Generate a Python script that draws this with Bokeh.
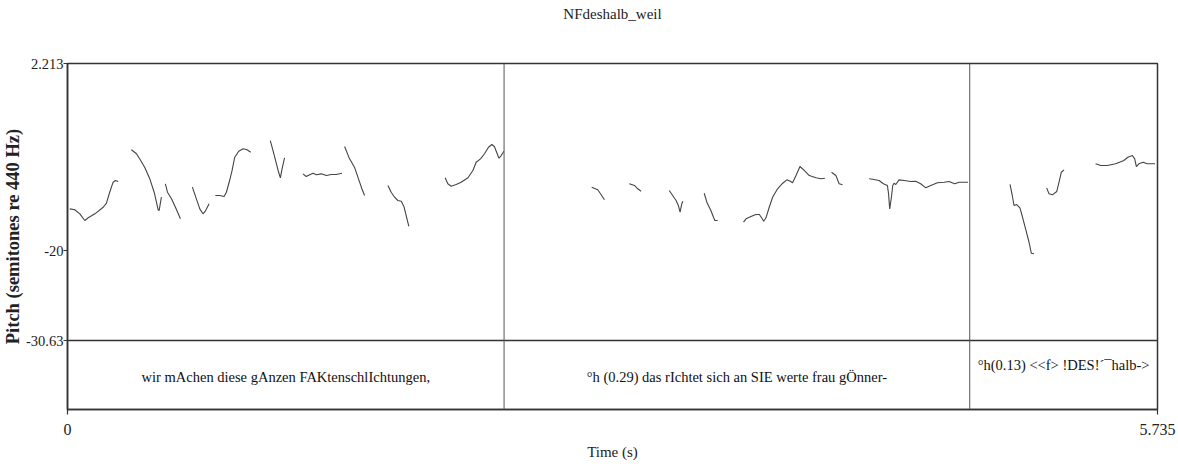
from bokeh.plotting import figure
from bokeh.models import Range1d, FixedTicker, Span, Title
from bokeh.core.properties import value
from bokeh.embed import file_html
from bokeh.resources import INLINE

# ---------------- data ----------------
TITLE = "NFdeshalb_weil"
Y_LABEL = "Pitch (semitones re 440 Hz)"
X_LABEL = "Time (s)"

T_MAX = 5.735
Y_MAX = 2.213
Y_MIN = -30.63

Y_TICKS = [-30.63, -20, 2.213]
Y_TICK_LABELS = ["-30.63", "-20", "2.213"]
X_TICKS = [0, 5.735]
X_TICK_LABELS = ["0", "5.735"]

tier_bounds = [0.0, 2.297, 4.747, 5.735]
tier_texts = [
    "wir mAchen diese gAnzen FAKtenschlIchtungen,",
    "\u00b0h (0.29) das rIchtet sich an SIE werte frau g\u00d6nner-",
    "\u00b0h(0.13) <<f> !DES!\u00b4\u00afhalb->",
]

contour_times = [
    [0.012, 0.038, 0.065, 0.091, 0.109, 0.144, 0.188, 0.205, 0.222, 0.240, 0.252, 0.267],
    [0.336, 0.363, 0.385, 0.406, 0.433, 0.456, 0.468, 0.477, 0.482, 0.494],
    [0.515, 0.526, 0.547, 0.568, 0.594],
    [0.657, 0.678, 0.696, 0.713, 0.727, 0.745],
    [0.778, 0.801, 0.824, 0.836, 0.853, 0.866, 0.880, 0.901, 0.924, 0.945, 0.964],
    [1.067, 1.081, 1.095, 1.108, 1.120, 1.129, 1.142],
    [1.239, 1.256, 1.274, 1.292, 1.309, 1.335, 1.362, 1.388, 1.414, 1.444],
    [1.458, 1.484, 1.510, 1.531, 1.549, 1.563],
    [1.686, 1.703, 1.721, 1.738, 1.756, 1.770, 1.782, 1.796],
    [1.987, 2.001, 2.019, 2.045, 2.071, 2.107, 2.133, 2.150, 2.173, 2.194, 2.215, 2.233,
     2.246, 2.261, 2.270, 2.282, 2.296],
    [2.758, 2.790, 2.807, 2.825],
    [2.956, 2.983, 3.000, 3.018],
    [3.166, 3.184, 3.202, 3.214, 3.223, 3.232, 3.238],
    [3.350, 3.364, 3.385, 3.400, 3.406, 3.421],
    [3.557, 3.570, 3.596, 3.622, 3.640, 3.652, 3.663, 3.675, 3.692, 3.710, 3.736, 3.763,
     3.785, 3.803, 3.815, 3.833, 3.854, 3.876, 3.903, 3.938, 3.964, 3.985],
    [4.020, 4.043, 4.060, 4.078],
    [4.218, 4.244, 4.270, 4.293, 4.314, 4.320, 4.326, 4.335, 4.342, 4.349, 4.358, 4.375,
     4.402, 4.437, 4.463, 4.489, 4.516, 4.542, 4.577, 4.612, 4.638, 4.668, 4.691, 4.717, 4.738],
    [4.959, 4.971, 4.980, 4.994, 5.011, 5.024, 5.041, 5.059, 5.071, 5.085],
    [5.152, 5.164, 5.182, 5.205, 5.217, 5.229, 5.243],
    [5.409, 5.436, 5.471, 5.515, 5.558, 5.579, 5.603, 5.615, 5.624, 5.637, 5.660, 5.681,
     5.708, 5.722],
]

contour_semitones = [
    [-15.02, -15.13, -15.61, -16.40, -16.08, -15.61, -14.83, -14.35, -13.05, -11.86, -11.66, -11.78],
    [-8.02, -8.49, -9.29, -10.08, -11.46, -13.05, -14.23, -15.13, -15.22, -13.64],
    [-12.05, -13.05, -13.83, -14.83, -16.20],
    [-12.45, -13.83, -15.02, -15.61, -15.22, -14.42],
    [-13.44, -13.44, -13.56, -13.05, -11.66, -10.47, -8.90, -8.19, -7.90, -8.02, -8.30],
    [-6.92, -8.10, -9.29, -10.47, -11.34, -10.27, -8.97],
    [-10.87, -11.19, -10.98, -10.79, -10.98, -10.87, -11.07, -10.95, -10.95, -10.79],
    [-7.63, -9.09, -10.08, -11.46, -12.64, -13.44],
    [-12.25, -13.05, -13.64, -14.03, -14.11, -14.74, -15.81, -17.11],
    [-11.34, -12.05, -12.34, -12.13, -11.86, -11.34, -10.47, -9.49, -9.09, -8.49, -7.71, -7.39,
     -7.63, -8.49, -9.02, -8.70, -8.19],
    [-12.45, -12.76, -13.32, -13.95],
    [-12.05, -12.25, -12.64, -12.93],
    [-12.85, -13.44, -14.03, -14.62, -15.42, -14.42, -14.11],
    [-13.17, -14.23, -15.22, -16.08, -16.40, -16.40],
    [-16.60, -16.20, -15.93, -15.69, -15.69, -16.08, -16.49, -16.08, -14.83, -13.64, -12.64, -11.98,
     -11.58, -11.74, -11.93, -11.07, -10.00, -10.47, -11.07, -11.34, -11.46, -11.39],
    [-10.68, -11.07, -12.05, -12.17],
    [-11.46, -11.54, -11.66, -12.05, -12.25, -13.24, -15.02, -13.64, -12.25, -11.98, -12.13, -11.58,
     -11.66, -11.78, -11.74, -12.05, -12.53, -12.25, -11.93, -11.86, -11.78, -12.05, -11.86, -11.86, -11.86],
    [-12.13, -13.44, -14.62, -14.51, -14.90, -15.93, -17.39, -18.98, -20.28, -20.35],
    [-12.53, -13.24, -13.36, -12.96, -11.86, -10.68, -10.39],
    [-9.68, -9.88, -9.88, -9.68, -9.29, -8.90, -8.70, -9.09, -10.00, -9.68, -9.49, -9.68,
     -9.68, -9.68],
]

# ---------------- layout / style ----------------
FONT = "Liberation Serif"
TIER_DEPTH = 8.18          # height of the text tier below the pitch area (in y units)
TIER_BOTTOM = Y_MIN - TIER_DEPTH
TIER_MID = Y_MIN - TIER_DEPTH / 2
FRAME_COLOR = "#333333"

p = figure(
    width=1178, height=468,
    x_range=Range1d(0, T_MAX), y_range=Range1d(TIER_BOTTOM, Y_MAX),
    output_backend="svg", toolbar_location=None,
    min_border_left=66, min_border_right=21, min_border_top=63, min_border_bottom=59,
)
p.background_fill_color = "white"
p.border_fill_color = "white"
p.outline_line_color = FRAME_COLOR
p.outline_line_width = 1.5
p.grid.visible = False

# spacer between frame and title, then the title itself
p.add_layout(Title(text=" ", text_font=FONT, text_font_size="15px", standoff=24), "above")
p.title.text = TITLE
p.title.align = "center"
p.title.text_font = FONT
p.title.text_font_size = "15px"
p.title.text_font_style = "normal"
p.title.text_color = "#222222"
p.title.standoff = 0

# axes
p.yaxis.ticker = FixedTicker(ticks=Y_TICKS)
p.yaxis.major_label_overrides = {t: s for t, s in zip(Y_TICKS, Y_TICK_LABELS)}
p.xaxis.ticker = FixedTicker(ticks=X_TICKS)
p.xaxis.major_label_overrides = {t: s for t, s in zip(X_TICKS, X_TICK_LABELS)}
for ax in (p.xaxis, p.yaxis):
    ax.axis_line_color = FRAME_COLOR
    ax.axis_line_width = 1.5
    ax.major_tick_line_color = FRAME_COLOR
    ax.major_tick_line_width = 1.2
    ax.major_tick_in = 0
    ax.minor_tick_line_color = None
    ax.major_label_text_font = FONT
    ax.major_label_text_color = "#222222"
p.yaxis.major_tick_out = 4
p.yaxis.major_label_standoff = 0
p.yaxis.major_label_text_font_size = "14.5px"
p.yaxis.axis_label = Y_LABEL
p.yaxis.axis_label_text_font = FONT
p.yaxis.axis_label_text_font_style = "bold"
p.yaxis.axis_label_text_font_size = "18.5px"
p.yaxis.axis_label_text_color = "#222222"
p.yaxis.axis_label_standoff = 0

p.xaxis.major_tick_out = 5
p.xaxis.major_label_standoff = 9
p.xaxis.major_label_text_font_size = "16px"
p.xaxis.axis_label = X_LABEL
p.xaxis.axis_label_text_font = FONT
p.xaxis.axis_label_text_font_style = "normal"
p.xaxis.axis_label_text_font_size = "15px"
p.xaxis.axis_label_text_color = "#222222"
p.xaxis.axis_label_standoff = 6

# tier separator and interval boundaries
p.add_layout(Span(location=Y_MIN, dimension="width", line_color=FRAME_COLOR, line_width=1.5))
for b in tier_bounds[1:-1]:
    p.add_layout(Span(location=b, dimension="height", line_color="#555555", line_width=1))

# pitch contours
p.multi_line(xs=contour_times, ys=contour_semitones, line_color="#444444", line_width=1.1)

# tier texts
mids = [(a + b) / 2 for a, b in zip(tier_bounds[:-1], tier_bounds[1:])]
text_y = [TIER_MID - 0.2, TIER_MID - 0.2, TIER_MID + 1.2]
p.text(x=mids, y=text_y, text=tier_texts, text_font=value(FONT), text_font_size="14.5px",
       text_align="center", text_baseline="middle", text_color="#111111")

open("out.html", "w").write(file_html(p, INLINE))
